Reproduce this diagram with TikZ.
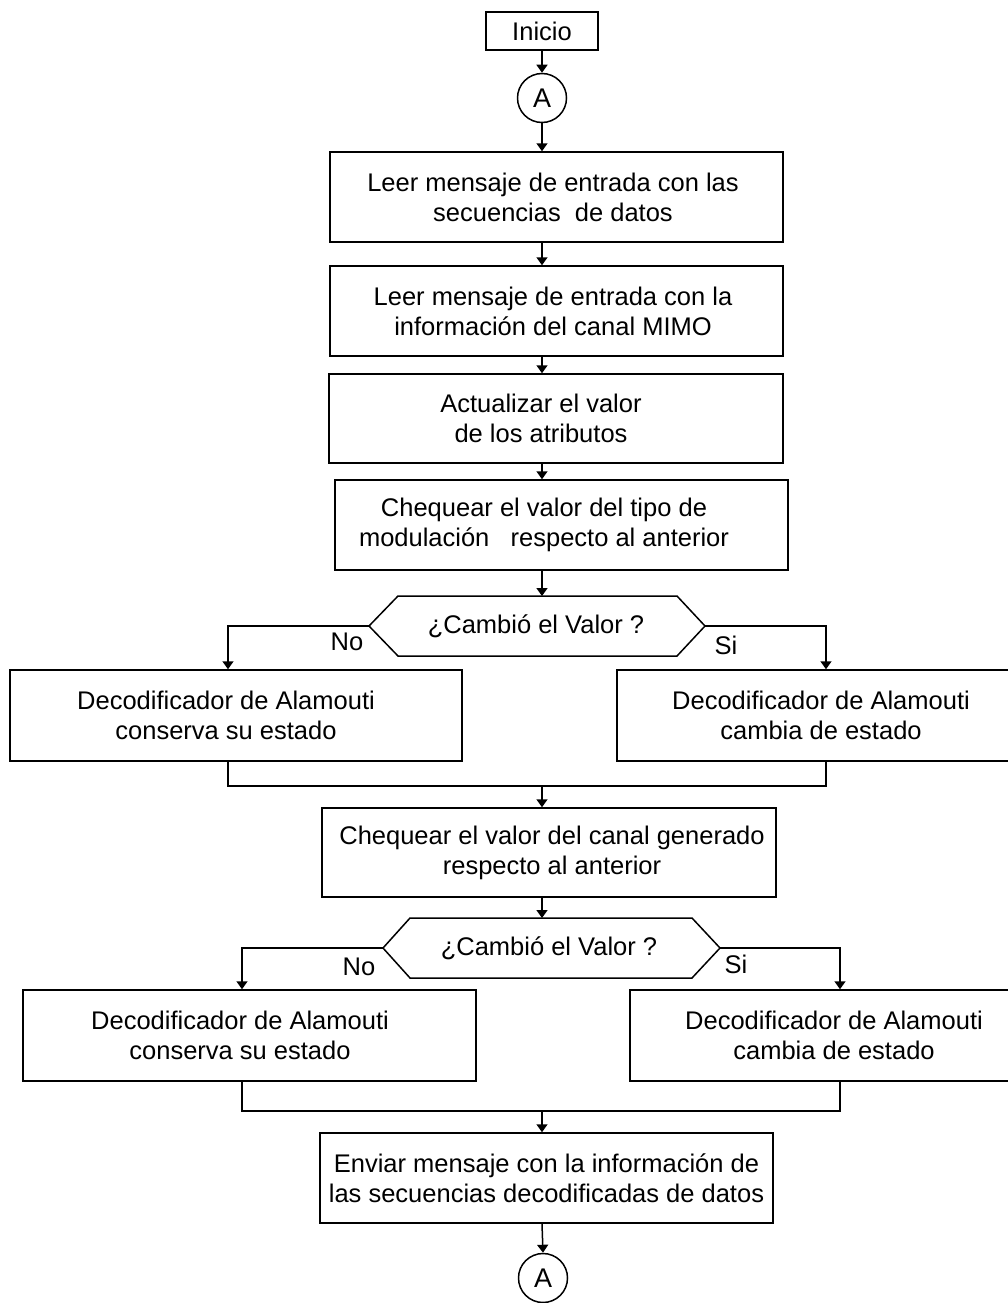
\documentclass[tikz,border=0pt]{standalone}
\usepackage{fontspec}
\setmainfont{Liberation Sans}
\usetikzlibrary{arrows.meta}
\begin{document}
\begin{tikzpicture}[x=1pt,y=-1pt,
  line width=1.5pt,
  arr/.style={-{Triangle[width=11pt,length=8pt]}},
  txt/.style={align=center,inner sep=0pt,font=\fontsize{25.5}{30}\selectfont},
  box/.style={draw,rectangle,inner sep=0pt},
  conn/.style={draw,circle,inner sep=0pt,minimum size=49pt,font=\fontsize{27}{30}\selectfont},
  lbl/.style={inner sep=0pt,font=\fontsize{25.5}{30}\selectfont}]
\useasboundingbox[fill=white] (0,0) rectangle (1008,1303);

% top
\node[box,minimum width=112pt,minimum height=38pt,txt] (inicio) at (542,31) {Inicio};
\node[conn] (cA1) at (542,98) {A};

\node[box,minimum width=453pt,minimum height=90pt,
  label={[txt,xshift=-3.5pt]center:Leer mensaje de entrada con las\\secuencias\ \ de datos}] (b1) at (556.5,197) {};
\node[box,minimum width=453pt,minimum height=90pt,
  label={[txt,xshift=-3.5pt]center:Leer mensaje de entrada con la\\información del canal MIMO}] (b2) at (556.5,311) {};
\node[box,minimum width=454pt,minimum height=89pt,
  label={[txt,xshift=-15pt]center:Actualizar el valor\\de los atributos}] (b3) at (556,418.5) {};
\node[box,minimum width=453pt,minimum height=90pt,
  label={[txt,xshift=-17.5pt]center:Chequear el valor del tipo de\\modulación\ \ \ respecto al anterior}] (b4) at (561.5,525) {};

% decision 1
\node[txt] (d1) at (536,626) {¿Cambió el Valor ?};
\coordinate (d1w) at (369,626);
\coordinate (d1e) at (705,626);
\draw (d1w) -- (398,596) -- (677,596) -- (d1e) -- (677,656) -- (398,656) -- cycle;

\node[box,minimum width=452pt,minimum height=91pt,
  label={[txt,xshift=-10pt]center:Decodificador de Alamouti\\conserva su estado}] (L1) at (236,715.5) {};
\node[box,minimum width=408pt,minimum height=91pt,
  label={[txt]center:Decodificador de Alamouti\\cambia de estado}] (R1) at (821,715.5) {};

\node[box,minimum width=454pt,minimum height=89pt,
  label={[txt,xshift=3pt]center:Chequear el valor del canal generado\\respecto al anterior}] (b5) at (549,852.5) {};

% decision 2
\node[txt] (d2) at (549,948) {¿Cambió el Valor ?};
\coordinate (d2w) at (383,948);
\coordinate (d2e) at (720,948);
\draw (d2w) -- (410,918) -- (692,918) -- (d2e) -- (692,978) -- (410,978) -- cycle;

\node[box,minimum width=453pt,minimum height=91pt,
  label={[txt,xshift=-9.5pt]center:Decodificador de Alamouti\\conserva su estado}] (L2) at (249.5,1035.5) {};
\node[box,minimum width=408pt,minimum height=91pt,
  label={[txt]center:Decodificador de Alamouti\\cambia de estado}] (R2) at (834,1035.5) {};

\node[box,minimum width=453pt,minimum height=90pt,
  label={[txt]center:Enviar mensaje con la información de\\las secuencias decodificadas de datos}] (b6) at (546.5,1178) {};
\node[conn] (cA2) at (543,1278) {A};

% labels
\node[lbl] (no1) at (347,642) {No};
\node[lbl] (si1) at (726,645) {Si};
\node[lbl] (no2) at (359,967) {No};
\node[lbl] (si2) at (736,964) {Si};

% connectors
\coordinate (ax) at (542,0);
\draw[arr] (inicio.south -| ax) -- (cA1.north);
\draw[arr] (cA1.south) -- (b1.north -| ax);
\draw[arr] (b1.south -| ax) -- (b2.north -| ax);
\draw[arr] (b2.south -| ax) -- (b3.north -| ax);
\draw[arr] (b3.south -| ax) -- (b4.north -| ax);
\draw[arr] (b4.south -| ax) -- (ax |- 0,596);

\coordinate (n1) at (228,626);
\coordinate (s1) at (826,626);
\draw[arr] (d1w) -- (n1) -- (n1 |- L1.north);
\draw[arr] (d1e) -- (s1) -- (s1 |- R1.north);
\coordinate (m1) at (542,786);
\draw (n1 |- L1.south) |- (m1) -| (s1 |- R1.south);
\draw[arr] (m1) -- (b5.north -| m1);
\draw[arr] (b5.south -| ax) -- (ax |- 0,918);

\coordinate (n2) at (242,948);
\coordinate (s2) at (840,948);
\draw[arr] (d2w) -- (n2) -- (n2 |- L2.north);
\draw[arr] (d2e) -- (s2) -- (s2 |- R2.north);
\coordinate (m2) at (542,1111);
\draw (n2 |- L2.south) |- (m2) -| (s2 |- R2.south);
\draw[arr] (m2) -- (b6.north -| m2);
\draw[arr] (b6.south -| ax) -- (cA2.north);
\end{tikzpicture}
\end{document}
